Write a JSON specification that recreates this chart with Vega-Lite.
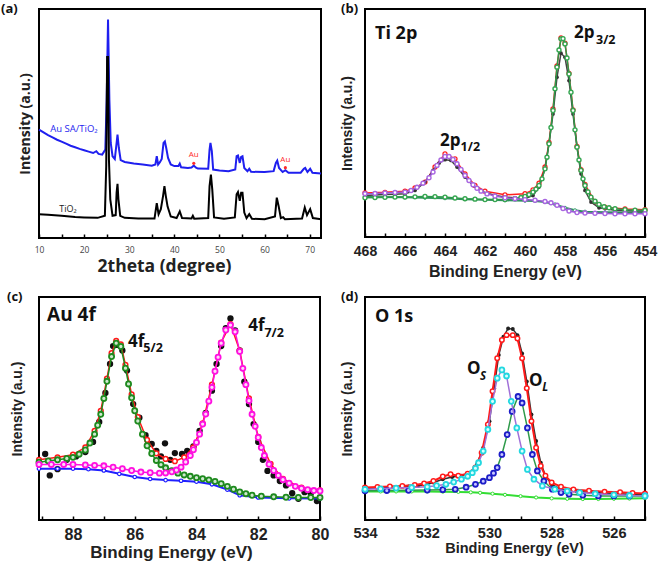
{
"$schema": "https://vega.github.io/schema/vega-lite/v6.json",
"padding": {"top": 2, "left": 0, "right": 0, "bottom": 0},
"background": "white",
"config": {
 "view": {"stroke": "black", "strokeWidth": 2},
 "axis": {"grid": false, "domain": false, "titleFontWeight": "bold", "labelFontWeight": "bold", "titleColor": "#222", "labelColor": "#222", "tickColor": "black", "tickWidth": 1.5, "labelOverlap": false, "labelFlush": false},
 "title": {"anchor": "start", "frame": "group", "fontSize": 13, "fontWeight": "bold", "font": "Open Sans", "color": "#111"}
},
"datasets": {
 "a": [
  {"s":"au","x":10,"y":47.3},{"s":"au","x":11,"y":46.1},{"s":"au","x":12,"y":44.9},{"s":"au","x":13,"y":43.9},{"s":"au","x":14,"y":42.9},{"s":"au","x":15,"y":42.1},{"s":"au","x":16,"y":41.2},{"s":"au","x":17,"y":40.3},{"s":"au","x":18,"y":39.6},{"s":"au","x":19,"y":38.9},{"s":"au","x":20,"y":38.3},{"s":"au","x":21,"y":37.7},{"s":"au","x":22,"y":37.1},{"s":"au","x":22.7,"y":37.9},{"s":"au","x":23.2,"y":36.7},{"s":"au","x":24,"y":36.4},{"s":"au","x":24.7,"y":38.6},{"s":"au","x":25,"y":60.3},{"s":"au","x":25.3,"y":95.4},{"s":"au","x":25.6,"y":60.3},{"s":"au","x":25.9,"y":41.5},{"s":"au","x":26.3,"y":35.7},{"s":"au","x":26.8,"y":34.5},{"s":"au","x":27.2,"y":41.5},{"s":"au","x":27.4,"y":45.1},{"s":"au","x":27.7,"y":39.3},{"s":"au","x":28.1,"y":34.0},{"s":"au","x":29,"y":33.2},{"s":"au","x":31,"y":32.5},{"s":"au","x":33,"y":32.1},{"s":"au","x":35,"y":31.6},{"s":"au","x":35.8,"y":32.1},{"s":"au","x":36.1,"y":35.7},{"s":"au","x":36.4,"y":32.1},{"s":"au","x":36.8,"y":33.1},{"s":"au","x":37.2,"y":34.5},{"s":"au","x":37.6,"y":41.5},{"s":"au","x":37.9,"y":42.2},{"s":"au","x":38.2,"y":39.3},{"s":"au","x":38.6,"y":35.0},{"s":"au","x":39.2,"y":32.1},{"s":"au","x":40,"y":31.4},{"s":"au","x":40.9,"y":31.4},{"s":"au","x":41.2,"y":32.5},{"s":"au","x":41.5,"y":30.9},{"s":"au","x":43,"y":30.6},{"s":"au","x":43.8,"y":30.8},{"s":"au","x":44.3,"y":31.6},{"s":"au","x":44.8,"y":30.7},{"s":"au","x":45.2,"y":30.3},{"s":"au","x":47.5,"y":30.2},{"s":"au","x":47.8,"y":38.6},{"s":"au","x":48,"y":41.5},{"s":"au","x":48.3,"y":37.9},{"s":"au","x":48.6,"y":29.9},{"s":"au","x":50,"y":29.5},{"s":"au","x":52,"y":29.2},{"s":"au","x":53.5,"y":29.9},{"s":"au","x":53.8,"y":35.7},{"s":"au","x":54.1,"y":36.0},{"s":"au","x":54.5,"y":32.8},{"s":"au","x":54.8,"y":35.4},{"s":"au","x":55.1,"y":35.7},{"s":"au","x":55.5,"y":30.6},{"s":"au","x":56.2,"y":29.2},{"s":"au","x":56.6,"y":30.2},{"s":"au","x":57,"y":28.9},{"s":"au","x":60,"y":28.8},{"s":"au","x":62,"y":29.2},{"s":"au","x":62.5,"y":32.8},{"s":"au","x":62.8,"y":33.8},{"s":"au","x":63.2,"y":30.6},{"s":"au","x":64,"y":28.8},{"s":"au","x":64.6,"y":29.6},{"s":"au","x":65.3,"y":28.5},{"s":"au","x":68,"y":28.5},{"s":"au","x":68.7,"y":30.2},{"s":"au","x":69,"y":30.6},{"s":"au","x":69.5,"y":28.8},{"s":"au","x":70.1,"y":30.2},{"s":"au","x":70.6,"y":28.5},{"s":"au","x":72.5,"y":28.2},
  {"s":"ti","x":10,"y":10.4},{"s":"ti","x":12,"y":10.1},{"s":"ti","x":15,"y":9.7},{"s":"ti","x":18,"y":9.2},{"s":"ti","x":20,"y":9.0},{"s":"ti","x":23,"y":8.8},{"s":"ti","x":24.6,"y":9.7},{"s":"ti","x":24.9,"y":31.4},{"s":"ti","x":25.1,"y":79.0},{"s":"ti","x":25.3,"y":79.0},{"s":"ti","x":25.5,"y":34.2},{"s":"ti","x":25.8,"y":16.9},{"s":"ti","x":26.3,"y":9.7},{"s":"ti","x":27,"y":10.0},{"s":"ti","x":27.2,"y":19.8},{"s":"ti","x":27.4,"y":23.7},{"s":"ti","x":27.6,"y":16.9},{"s":"ti","x":28,"y":9.7},{"s":"ti","x":29,"y":8.8},{"s":"ti","x":32,"y":8.5},{"s":"ti","x":35.6,"y":8.5},{"s":"ti","x":36.1,"y":15.2},{"s":"ti","x":36.5,"y":10.4},{"s":"ti","x":37,"y":12.6},{"s":"ti","x":37.5,"y":18.4},{"s":"ti","x":37.8,"y":22.7},{"s":"ti","x":38.1,"y":18.4},{"s":"ti","x":38.5,"y":13.7},{"s":"ti","x":39.2,"y":9.4},{"s":"ti","x":40.5,"y":8.7},{"s":"ti","x":41.2,"y":11.6},{"s":"ti","x":41.7,"y":8.7},{"s":"ti","x":43.8,"y":8.5},{"s":"ti","x":44.1,"y":9.7},{"s":"ti","x":44.4,"y":8.4},{"s":"ti","x":47.5,"y":8.7},{"s":"ti","x":47.8,"y":22.7},{"s":"ti","x":48.1,"y":27.7},{"s":"ti","x":48.4,"y":21.2},{"s":"ti","x":48.8,"y":9.0},{"s":"ti","x":51,"y":8.4},{"s":"ti","x":53.4,"y":9.0},{"s":"ti","x":53.8,"y":19.1},{"s":"ti","x":54.1,"y":20.1},{"s":"ti","x":54.5,"y":16.2},{"s":"ti","x":54.8,"y":19.8},{"s":"ti","x":55.1,"y":19.8},{"s":"ti","x":55.5,"y":11.1},{"s":"ti","x":56,"y":8.7},{"s":"ti","x":56.6,"y":10.4},{"s":"ti","x":57.2,"y":8.4},{"s":"ti","x":60,"y":8.2},{"s":"ti","x":62.3,"y":9.4},{"s":"ti","x":62.7,"y":17.6},{"s":"ti","x":63.1,"y":14.0},{"s":"ti","x":63.6,"y":8.7},{"s":"ti","x":64.1,"y":9.1},{"s":"ti","x":64.5,"y":8.2},{"s":"ti","x":68.3,"y":8.5},{"s":"ti","x":68.9,"y":13.3},{"s":"ti","x":69.4,"y":10.0},{"s":"ti","x":70.1,"y":12.6},{"s":"ti","x":70.7,"y":8.7},{"s":"ti","x":72.5,"y":8.2}
 ],
 "b": [
  {"s":"bg","x":468,"y":17.5},{"s":"bg","x":466,"y":17.4},{"s":"bg","x":465,"y":17.2},{"s":"bg","x":464,"y":17.0},{"s":"bg","x":463,"y":16.6},{"s":"bg","x":462,"y":16.3},{"s":"bg","x":461,"y":16.1},{"s":"bg","x":460,"y":15.9},{"s":"bg","x":459.5,"y":15.8},{"s":"bg","x":459,"y":15.3},{"s":"bg","x":458.5,"y":14.3},{"s":"bg","x":458,"y":12.8},{"s":"bg","x":457.5,"y":11.7},{"s":"bg","x":457,"y":11.1},{"s":"bg","x":456,"y":10.9},{"s":"bg","x":455,"y":10.8},{"s":"bg","x":454,"y":10.8},
  {"s":"r","x":468,"y":19.3},{"s":"r","x":467,"y":19.6},{"s":"r","x":466,"y":20.1},{"s":"r","x":465.5,"y":21.5},{"s":"r","x":465,"y":24.1},{"s":"r","x":464.5,"y":30.7},{"s":"r","x":464,"y":36.5},{"s":"r","x":463.5,"y":34.3},{"s":"r","x":463,"y":27.7},{"s":"r","x":462.5,"y":22.6},{"s":"r","x":462,"y":20.1},{"s":"r","x":461,"y":18.5},{"s":"r","x":460,"y":19.0},{"s":"r","x":459.6,"y":20.7},{"s":"r","x":459.3,"y":23.6},{"s":"r","x":459,"y":30.7},{"s":"r","x":458.8,"y":41.5},{"s":"r","x":458.6,"y":56.2},{"s":"r","x":458.4,"y":75.0},{"s":"r","x":458.2,"y":87.3},{"s":"r","x":458,"y":85.0},{"s":"r","x":457.8,"y":71.8},{"s":"r","x":457.6,"y":55.8},{"s":"r","x":457.4,"y":39.7},{"s":"r","x":457.2,"y":29.5},{"s":"r","x":457,"y":23.1},{"s":"r","x":456.5,"y":15.3},{"s":"r","x":456,"y":13.1},{"s":"r","x":455,"y":12.3},{"s":"r","x":454,"y":12.0},
  {"s":"k","x":468,"y":18.2},{"s":"k","x":467.5,"y":18.4},{"s":"k","x":467,"y":18.6},{"s":"k","x":466.5,"y":18.8},{"s":"k","x":466,"y":19.0},{"s":"k","x":465.5,"y":20.4},{"s":"k","x":465,"y":24.1},{"s":"k","x":464.6,"y":29.2},{"s":"k","x":464.3,"y":32.4},{"s":"k","x":464,"y":33.9},{"s":"k","x":463.7,"y":33.6},{"s":"k","x":463.4,"y":30.7},{"s":"k","x":463,"y":26.3},{"s":"k","x":462.6,"y":22.6},{"s":"k","x":462.2,"y":20.1},{"s":"k","x":461.5,"y":18.2},{"s":"k","x":461,"y":17.5},{"s":"k","x":460.5,"y":17.2},{"s":"k","x":460,"y":16.8},{"s":"k","x":459.6,"y":18.2},{"s":"k","x":459.3,"y":21.9},{"s":"k","x":459,"y":29.9},{"s":"k","x":458.8,"y":40.9},{"s":"k","x":458.6,"y":54.0},{"s":"k","x":458.4,"y":70.1},{"s":"k","x":458.2,"y":80.6},{"s":"k","x":458,"y":78.8},{"s":"k","x":457.8,"y":68.6},{"s":"k","x":457.6,"y":54.0},{"s":"k","x":457.4,"y":39.4},{"s":"k","x":457.2,"y":27.7},{"s":"k","x":457,"y":20.4},{"s":"k","x":456.7,"y":15.3},{"s":"k","x":456.3,"y":12.8},{"s":"k","x":455.5,"y":11.7},{"s":"k","x":454.5,"y":11.4},{"s":"k","x":454,"y":11.4},
  {"s":"g","x":468,"y":17.2},{"s":"g","x":467.5,"y":17.3},{"s":"g","x":467,"y":17.4},{"s":"g","x":466.5,"y":17.5},{"s":"g","x":466,"y":17.5},{"s":"g","x":465.5,"y":17.6},{"s":"g","x":465,"y":17.8},{"s":"g","x":464.5,"y":17.7},{"s":"g","x":464,"y":17.5},{"s":"g","x":463.5,"y":17.1},{"s":"g","x":463,"y":16.8},{"s":"g","x":462.5,"y":16.6},{"s":"g","x":462,"y":16.4},{"s":"g","x":461.5,"y":16.4},{"s":"g","x":461,"y":16.4},{"s":"g","x":460.5,"y":16.8},{"s":"g","x":460.2,"y":17.3},{"s":"g","x":460,"y":17.8},{"s":"g","x":459.8,"y":18.6},{"s":"g","x":459.6,"y":19.7},{"s":"g","x":459.45,"y":21.0},{"s":"g","x":459.3,"y":22.6},{"s":"g","x":459.15,"y":25.5},{"s":"g","x":459,"y":29.9},{"s":"g","x":458.9,"y":35.0},{"s":"g","x":458.8,"y":40.9},{"s":"g","x":458.7,"y":48.0},{"s":"g","x":458.6,"y":55.5},{"s":"g","x":458.5,"y":65.0},{"s":"g","x":458.4,"y":74.5},{"s":"g","x":458.3,"y":82.0},{"s":"g","x":458.2,"y":86.9},{"s":"g","x":458.1,"y":87.0},{"s":"g","x":458,"y":84.7},{"s":"g","x":457.9,"y":78.5},{"s":"g","x":457.8,"y":71.5},{"s":"g","x":457.7,"y":63.5},{"s":"g","x":457.6,"y":55.5},{"s":"g","x":457.5,"y":47.0},{"s":"g","x":457.4,"y":39.4},{"s":"g","x":457.3,"y":33.8},{"s":"g","x":457.2,"y":29.2},{"s":"g","x":457.1,"y":25.5},{"s":"g","x":457,"y":22.6},{"s":"g","x":456.85,"y":19.8},{"s":"g","x":456.7,"y":17.5},{"s":"g","x":456.5,"y":15.7},{"s":"g","x":456.3,"y":14.3},{"s":"g","x":456.05,"y":13.3},{"s":"g","x":455.8,"y":12.8},{"s":"g","x":455.5,"y":12.4},{"s":"g","x":455,"y":12.0},{"s":"g","x":454.5,"y":11.8},{"s":"g","x":454,"y":11.7},
  {"s":"p","x":468,"y":19.0},{"s":"p","x":467.5,"y":19.1},{"s":"p","x":467,"y":19.3},{"s":"p","x":466.5,"y":19.5},{"s":"p","x":466,"y":19.7},{"s":"p","x":465.7,"y":20.4},{"s":"p","x":465.4,"y":21.8},{"s":"p","x":465.1,"y":23.6},{"s":"p","x":464.8,"y":26.0},{"s":"p","x":464.6,"y":28.5},{"s":"p","x":464.4,"y":31.4},{"s":"p","x":464.2,"y":33.8},{"s":"p","x":464,"y":35.3},{"s":"p","x":463.8,"y":35.3},{"s":"p","x":463.6,"y":34.0},{"s":"p","x":463.4,"y":32.1},{"s":"p","x":463.2,"y":29.6},{"s":"p","x":463,"y":27.0},{"s":"p","x":462.8,"y":24.8},{"s":"p","x":462.6,"y":22.9},{"s":"p","x":462.4,"y":21.4},{"s":"p","x":462.2,"y":20.1},{"s":"p","x":461.9,"y":18.9},{"s":"p","x":461.5,"y":18.0},{"s":"p","x":461,"y":17.2},{"s":"p","x":460.5,"y":16.8},{"s":"p","x":460,"y":16.4},{"s":"p","x":459.5,"y":16.1},{"s":"p","x":459,"y":15.6},{"s":"p","x":458.7,"y":15.0},{"s":"p","x":458.4,"y":13.9},{"s":"p","x":458.1,"y":12.5},{"s":"p","x":457.8,"y":11.4},{"s":"p","x":457.4,"y":10.7},{"s":"p","x":457,"y":10.5},{"s":"p","x":456.5,"y":10.4},{"s":"p","x":456,"y":10.3},{"s":"p","x":455.5,"y":10.2},{"s":"p","x":455,"y":10.2},{"s":"p","x":454.5,"y":10.2},{"s":"p","x":454,"y":10.2}
 ],
 "c": [
  {"s":"k","x":88.9,"y":29.6},{"s":"k","x":88.75,"y":20.0},{"s":"k","x":88.5,"y":22.8},{"s":"k","x":88.2,"y":27.0},{"s":"k","x":87.9,"y":28.5},{"s":"k","x":87.6,"y":30.5},{"s":"k","x":87.35,"y":35.0},{"s":"k","x":87.15,"y":44.0},{"s":"k","x":86.95,"y":57.0},{"s":"k","x":86.8,"y":70.0},{"s":"k","x":86.7,"y":78.0},{"s":"k","x":86.55,"y":78.5},{"s":"k","x":86.4,"y":76.0},{"s":"k","x":86.25,"y":67.0},{"s":"k","x":86.05,"y":52.0},{"s":"k","x":85.85,"y":45.9},{"s":"k","x":85.65,"y":38.0},{"s":"k","x":85.45,"y":34.1},{"s":"k","x":85.3,"y":31.0},{"s":"k","x":85.15,"y":28.5},{"s":"k","x":85.02,"y":34.4},{"s":"k","x":84.85,"y":27.0},{"s":"k","x":84.7,"y":30.0},{"s":"k","x":84.47,"y":29.6},{"s":"k","x":84.3,"y":31.0},{"s":"k","x":84.1,"y":33.0},{"s":"k","x":83.9,"y":40.0},{"s":"k","x":83.7,"y":48.0},{"s":"k","x":83.5,"y":58.0},{"s":"k","x":83.35,"y":70.0},{"s":"k","x":83.2,"y":78.0},{"s":"k","x":83.05,"y":86.0},{"s":"k","x":82.9,"y":90.4},{"s":"k","x":82.75,"y":85.0},{"s":"k","x":82.6,"y":76.0},{"s":"k","x":82.45,"y":62.0},{"s":"k","x":82.3,"y":52.0},{"s":"k","x":82.15,"y":43.0},{"s":"k","x":82.0,"y":35.0},{"s":"k","x":81.85,"y":27.0},{"s":"k","x":81.7,"y":22.0},{"s":"k","x":81.5,"y":20.0},{"s":"k","x":81.3,"y":17.5},{"s":"k","x":81.1,"y":15.5},{"s":"k","x":80.9,"y":12.0},{"s":"k","x":80.7,"y":9.5},{"s":"k","x":80.5,"y":12.5},{"s":"k","x":80.3,"y":12.0},{"s":"k","x":80.1,"y":8.5},
  {"s":"b","x":89.1,"y":23.0},{"s":"b","x":88.5,"y":23.0},{"s":"b","x":88,"y":23.0},{"s":"b","x":87.5,"y":22.8},{"s":"b","x":87,"y":22.2},{"s":"b","x":86.5,"y":20.7},{"s":"b","x":86,"y":19.3},{"s":"b","x":85.5,"y":18.4},{"s":"b","x":85,"y":17.9},{"s":"b","x":84.5,"y":17.6},{"s":"b","x":84,"y":17.2},{"s":"b","x":83.5,"y":16.0},{"s":"b","x":83,"y":13.6},{"s":"b","x":82.6,"y":11.1},{"s":"b","x":82,"y":10.1},{"s":"b","x":81,"y":9.7},{"s":"b","x":80,"y":9.6},
  {"s":"r","x":89.1,"y":27.0},{"s":"r","x":88.5,"y":28.1},{"s":"r","x":88,"y":29.3},{"s":"r","x":87.6,"y":32.6},{"s":"r","x":87.3,"y":40.0},{"s":"r","x":87.1,"y":48.9},{"s":"r","x":86.9,"y":63.4},{"s":"r","x":86.75,"y":74.8},{"s":"r","x":86.6,"y":80.3},{"s":"r","x":86.45,"y":78.8},{"s":"r","x":86.3,"y":69.6},{"s":"r","x":86.1,"y":56.3},{"s":"r","x":85.9,"y":46.2},{"s":"r","x":85.6,"y":35.9},{"s":"r","x":85.3,"y":29.9},{"s":"r","x":85,"y":27.4},{"s":"r","x":84.7,"y":26.4},{"s":"r","x":84.4,"y":28.1},{"s":"r","x":84.1,"y":32.6},{"s":"r","x":83.8,"y":43.3},{"s":"r","x":83.5,"y":60.7},{"s":"r","x":83.2,"y":79.6},{"s":"r","x":82.9,"y":87.9},{"s":"r","x":82.6,"y":76.0},{"s":"r","x":82.3,"y":54.5},{"s":"r","x":82,"y":37.3},{"s":"r","x":81.6,"y":25.2},{"s":"r","x":81.2,"y":18.4},{"s":"r","x":80.6,"y":14.5},{"s":"r","x":80,"y":13.3},
  {"s":"g","x":89.1,"y":25.9},{"s":"g","x":88.8,"y":26.5},{"s":"g","x":88.5,"y":27.0},{"s":"g","x":88.2,"y":27.6},{"s":"g","x":88,"y":28.1},{"s":"g","x":87.8,"y":29.5},{"s":"g","x":87.6,"y":31.4},{"s":"g","x":87.45,"y":34.5},{"s":"g","x":87.3,"y":38.5},{"s":"g","x":87.2,"y":42.5},{"s":"g","x":87.1,"y":47.4},{"s":"g","x":87,"y":54.5},{"s":"g","x":86.9,"y":62.2},{"s":"g","x":86.75,"y":73.3},{"s":"g","x":86.6,"y":79.3},{"s":"g","x":86.45,"y":77.8},{"s":"g","x":86.3,"y":68.1},{"s":"g","x":86.2,"y":61.0},{"s":"g","x":86.1,"y":54.8},{"s":"g","x":86,"y":49.0},{"s":"g","x":85.9,"y":44.4},{"s":"g","x":85.75,"y":38.5},{"s":"g","x":85.6,"y":33.3},{"s":"g","x":85.45,"y":29.8},{"s":"g","x":85.3,"y":26.7},{"s":"g","x":85.15,"y":24.8},{"s":"g","x":85,"y":23.4},{"s":"g","x":84.8,"y":22.1},{"s":"g","x":84.6,"y":21.0},{"s":"g","x":84.4,"y":20.2},{"s":"g","x":84.2,"y":19.6},{"s":"g","x":84,"y":19.0},{"s":"g","x":83.8,"y":18.5},{"s":"g","x":83.6,"y":18.0},{"s":"g","x":83.4,"y":17.3},{"s":"g","x":83.2,"y":16.3},{"s":"g","x":83,"y":15.1},{"s":"g","x":82.8,"y":13.8},{"s":"g","x":82.6,"y":12.6},{"s":"g","x":82.4,"y":11.8},{"s":"g","x":82.2,"y":11.1},{"s":"g","x":81.9,"y":10.7},{"s":"g","x":81.5,"y":10.4},{"s":"g","x":81.1,"y":10.2},{"s":"g","x":80.7,"y":10.1},{"s":"g","x":80.3,"y":10.1},{"s":"g","x":80,"y":10.1},
  {"s":"m","x":89.1,"y":24.9},{"s":"m","x":88.7,"y":24.9},{"s":"m","x":88.3,"y":24.9},{"s":"m","x":88,"y":24.9},{"s":"m","x":87.6,"y":24.7},{"s":"m","x":87.3,"y":24.5},{"s":"m","x":87,"y":24.3},{"s":"m","x":86.7,"y":23.7},{"s":"m","x":86.4,"y":23.0},{"s":"m","x":86.1,"y":22.2},{"s":"m","x":85.8,"y":21.5},{"s":"m","x":85.5,"y":21.2},{"s":"m","x":85.2,"y":21.0},{"s":"m","x":85,"y":21.1},{"s":"m","x":84.8,"y":21.6},{"s":"m","x":84.65,"y":22.4},{"s":"m","x":84.5,"y":23.7},{"s":"m","x":84.35,"y":26.0},{"s":"m","x":84.2,"y":28.9},{"s":"m","x":84.1,"y":31.5},{"s":"m","x":84,"y":34.8},{"s":"m","x":83.9,"y":38.5},{"s":"m","x":83.8,"y":43.0},{"s":"m","x":83.7,"y":47.5},{"s":"m","x":83.6,"y":53.3},{"s":"m","x":83.5,"y":59.5},{"s":"m","x":83.4,"y":66.7},{"s":"m","x":83.3,"y":73.0},{"s":"m","x":83.2,"y":79.3},{"s":"m","x":83.05,"y":85.2},{"s":"m","x":82.9,"y":87.4},{"s":"m","x":82.75,"y":84.4},{"s":"m","x":82.6,"y":75.6},{"s":"m","x":82.5,"y":68.0},{"s":"m","x":82.4,"y":60.7},{"s":"m","x":82.3,"y":53.5},{"s":"m","x":82.2,"y":47.4},{"s":"m","x":82.1,"y":42.0},{"s":"m","x":82,"y":37.0},{"s":"m","x":81.9,"y":32.5},{"s":"m","x":81.8,"y":28.9},{"s":"m","x":81.65,"y":25.0},{"s":"m","x":81.5,"y":22.2},{"s":"m","x":81.35,"y":20.0},{"s":"m","x":81.2,"y":18.1},{"s":"m","x":81,"y":16.5},{"s":"m","x":80.8,"y":15.1},{"s":"m","x":80.6,"y":14.2},{"s":"m","x":80.4,"y":13.6},{"s":"m","x":80.2,"y":13.2},{"s":"m","x":80,"y":13.0}
 ],
 "d": [
  {"s":"k","x":534,"y":14.1},{"s":"k","x":533.5,"y":14.3},{"s":"k","x":533,"y":14.6},{"s":"k","x":532.6,"y":15.0},{"s":"k","x":532.3,"y":15.3},{"s":"k","x":532,"y":16.0},{"s":"k","x":531.8,"y":16.8},{"s":"k","x":531.5,"y":18.3},{"s":"k","x":531.2,"y":19.3},{"s":"k","x":530.9,"y":19.8},{"s":"k","x":530.6,"y":21.2},{"s":"k","x":530.4,"y":25.0},{"s":"k","x":530.2,"y":32.4},{"s":"k","x":530,"y":44.3},{"s":"k","x":529.85,"y":59.1},{"s":"k","x":529.7,"y":74.0},{"s":"k","x":529.55,"y":82.2},{"s":"k","x":529.4,"y":85.9},{"s":"k","x":529.25,"y":85.6},{"s":"k","x":529.1,"y":82.9},{"s":"k","x":528.95,"y":74.7},{"s":"k","x":528.8,"y":62.1},{"s":"k","x":528.65,"y":47.3},{"s":"k","x":528.5,"y":35.4},{"s":"k","x":528.35,"y":25.7},{"s":"k","x":528.2,"y":19.8},{"s":"k","x":528,"y":16.0},{"s":"k","x":527.7,"y":13.8},{"s":"k","x":527.2,"y":12.8},{"s":"k","x":526.5,"y":12.2},{"s":"k","x":525.5,"y":11.6},{"s":"k","x":525,"y":11.6},
  {"s":"bg","x":534,"y":12.8},{"s":"bg","x":533.5,"y":12.8},{"s":"bg","x":533,"y":12.8},{"s":"bg","x":532.5,"y":12.8},{"s":"bg","x":532,"y":12.8},{"s":"bg","x":531.5,"y":12.7},{"s":"bg","x":531,"y":12.6},{"s":"bg","x":530.6,"y":12.4},{"s":"bg","x":530.3,"y":12.2},{"s":"bg","x":529.9,"y":11.8},{"s":"bg","x":529.5,"y":11.3},{"s":"bg","x":529,"y":10.7},{"s":"bg","x":528.5,"y":10.1},{"s":"bg","x":528,"y":9.7},{"s":"bg","x":527.5,"y":9.5},{"s":"bg","x":527,"y":9.4},{"s":"bg","x":526.5,"y":9.4},{"s":"bg","x":526,"y":9.5},{"s":"bg","x":525.5,"y":9.6},{"s":"bg","x":525,"y":9.8},
  {"s":"r","x":534,"y":14.6},{"s":"r","x":533.6,"y":14.8},{"s":"r","x":533.2,"y":15.0},{"s":"r","x":532.8,"y":15.3},{"s":"r","x":532.4,"y":15.7},{"s":"r","x":532.1,"y":16.4},{"s":"r","x":531.8,"y":17.5},{"s":"r","x":531.5,"y":19.5},{"s":"r","x":531.25,"y":20.5},{"s":"r","x":531,"y":19.8},{"s":"r","x":530.7,"y":20.8},{"s":"r","x":530.45,"y":23.5},{"s":"r","x":530.25,"y":30.2},{"s":"r","x":530.05,"y":42.8},{"s":"r","x":529.9,"y":57.7},{"s":"r","x":529.75,"y":72.5},{"s":"r","x":529.6,"y":80.7},{"s":"r","x":529.45,"y":82.9},{"s":"r","x":529.25,"y":82.9},{"s":"r","x":529.1,"y":81.4},{"s":"r","x":528.95,"y":72.5},{"s":"r","x":528.8,"y":59.1},{"s":"r","x":528.65,"y":44.3},{"s":"r","x":528.5,"y":32.4},{"s":"r","x":528.35,"y":24.2},{"s":"r","x":528.2,"y":19.8},{"s":"r","x":528,"y":16.8},{"s":"r","x":527.7,"y":14.9},{"s":"r","x":527.3,"y":13.7},{"s":"r","x":526.8,"y":13.1},{"s":"r","x":526.3,"y":12.7},{"s":"r","x":525.8,"y":12.4},{"s":"r","x":525.4,"y":12.1},{"s":"r","x":525,"y":11.9},
  {"s":"bl","x":534,"y":13.1},{"s":"bl","x":533.3,"y":13.2},{"s":"bl","x":532.6,"y":13.3},{"s":"bl","x":532,"y":13.4},{"s":"bl","x":531.5,"y":13.6},{"s":"bl","x":531.1,"y":13.8},{"s":"bl","x":530.75,"y":14.7},{"s":"bl","x":530.45,"y":16.0},{"s":"bl","x":530.2,"y":17.4},{"s":"bl","x":530,"y":19.0},{"s":"bl","x":529.87,"y":21.0},{"s":"bl","x":529.75,"y":23.5},{"s":"bl","x":529.6,"y":29.4},{"s":"bl","x":529.43,"y":38.3},{"s":"bl","x":529.27,"y":48.7},{"s":"bl","x":529.08,"y":55.4},{"s":"bl","x":528.95,"y":52.5},{"s":"bl","x":528.78,"y":41.3},{"s":"bl","x":528.62,"y":29.4},{"s":"bl","x":528.46,"y":22.0},{"s":"bl","x":528.25,"y":17.5},{"s":"bl","x":527.98,"y":13.8},{"s":"bl","x":527.7,"y":12.3},{"s":"bl","x":527.44,"y":11.6},{"s":"bl","x":527,"y":11.1},{"s":"bl","x":526.5,"y":10.8},{"s":"bl","x":526,"y":10.8},{"s":"bl","x":525.5,"y":10.8},{"s":"bl","x":525,"y":10.8},
  {"s":"cy","x":534,"y":13.8},{"s":"cy","x":533.5,"y":14.0},{"s":"cy","x":533,"y":14.3},{"s":"cy","x":532.5,"y":14.6},{"s":"cy","x":532,"y":14.9},{"s":"cy","x":531.7,"y":15.4},{"s":"cy","x":531.4,"y":16.0},{"s":"cy","x":531.15,"y":17.0},{"s":"cy","x":530.9,"y":18.3},{"s":"cy","x":530.7,"y":19.6},{"s":"cy","x":530.55,"y":21.2},{"s":"cy","x":530.45,"y":23.2},{"s":"cy","x":530.35,"y":25.7},{"s":"cy","x":530.2,"y":30.9},{"s":"cy","x":530.05,"y":40.6},{"s":"cy","x":529.9,"y":53.2},{"s":"cy","x":529.75,"y":63.6},{"s":"cy","x":529.6,"y":67.3},{"s":"cy","x":529.45,"y":64.6},{"s":"cy","x":529.3,"y":53.2},{"s":"cy","x":529.12,"y":41.3},{"s":"cy","x":528.95,"y":30.9},{"s":"cy","x":528.78,"y":22.7},{"s":"cy","x":528.57,"y":18.3},{"s":"cy","x":528.3,"y":15.3},{"s":"cy","x":527.9,"y":13.8},{"s":"cy","x":527.5,"y":13.0},{"s":"cy","x":527.1,"y":12.3},{"s":"cy","x":526.6,"y":11.8},{"s":"cy","x":526,"y":11.3},{"s":"cy","x":525.5,"y":11.0},{"s":"cy","x":525,"y":10.8}
 ]
},
"bounds": "flush",
"spacing": 288,
"vconcat": [
 {"bounds": "flush", "spacing": 44, "hconcat": [
  {
   "width": 282, "height": 229,
   "title": {"text": "(a)", "dx": -38, "offset": -7},
   "data": {"name": "a"},
   "encoding": {
    "x": {"field": "x", "type": "quantitative", "scale": {"domain": [10, 72.5], "nice": false, "zero": false},
          "axis": {"title": "2theta (degree)", "titleX": 125, "values": [10,15,20,25,30,35,40,45,50,55,60,65,70], "labelExpr": "datum.value % 10 == 0 ? datum.label : ''", "tickSize": -4, "labelPadding": 11, "labelFont": "Open Sans", "labelFontWeight": "normal", "labelFontSize": 8.5, "labelColor": "#444", "titleFont": "Open Sans", "titleFontSize": 17.5, "titlePadding": 4}},
    "y": {"field": "y", "type": "quantitative", "scale": {"domain": [0, 100], "nice": false}, "axis": {"title": "Intensity (a.u.)", "labels": false, "ticks": false, "titlePadding": 7, "titleFont": "Open Sans", "titleFontSize": 14}}
   },
   "layer": [
    {"transform": [{"filter": "datum.s=='au'"}], "mark": {"type": "line", "color": "#1f1fef", "strokeWidth": 2}},
    {"transform": [{"filter": "datum.s=='ti'"}], "mark": {"type": "line", "color": "#000000", "strokeWidth": 2}},
    {"data": {"values": [{"x": 12.5, "y": 47.5, "t": "Au SA/TiO₂"}]}, "mark": {"type": "text", "align": "left", "baseline": "middle", "font": "Open Sans", "fontSize": 9.5, "color": "#1f1fef"}, "encoding": {"text": {"field": "t"}}},
    {"data": {"values": [{"x": 14.5, "y": 12.7, "t": "TiO₂"}]}, "mark": {"type": "text", "align": "left", "baseline": "middle", "font": "Open Sans", "fontSize": 9, "color": "#222"}, "encoding": {"text": {"field": "t"}}},
    {"data": {"values": [{"x": 44.3, "y": 36.2, "t": "Au"}, {"x": 64.6, "y": 34.2, "t": "Au"}]}, "mark": {"type": "text", "align": "center", "baseline": "middle", "font": "Open Sans", "fontSize": 8, "color": "#ff2a2a"}, "encoding": {"text": {"field": "t"}}},
    {"data": {"values": [{"x": 44.3, "y": 32.6}, {"x": 64.6, "y": 30.7}]}, "mark": {"type": "point", "shape": "circle", "filled": true, "color": "#ff2a2a", "size": 10, "opacity": 1}}
   ]
  },
  {
   "width": 280, "height": 228,
   "title": {"text": "(b)", "dx": -24, "offset": -7},
   "data": {"name": "b"},
   "encoding": {
    "x": {"field": "x", "type": "quantitative", "scale": {"domain": [454, 468], "reverse": true, "nice": false, "zero": false},
          "axis": {"title": "Binding Energy (eV)", "values": [454,455,456,457,458,459,460,461,462,463,464,465,466,467,468], "labelExpr": "datum.value % 2 == 0 ? datum.label : ''", "tickSize": -4, "labelPadding": 11, "labelFont": "Liberation Sans", "labelFontSize": 14, "titleFont": "Liberation Sans", "titleFontSize": 16, "titlePadding": 5}},
    "y": {"field": "y", "type": "quantitative", "scale": {"domain": [0, 100], "nice": false}, "axis": {"title": "Intensity (a.u.)", "labels": false, "ticks": false, "titlePadding": 11, "titleFont": "Liberation Sans", "titleFontSize": 14}}
   },
   "layer": [
    {"transform": [{"filter": "datum.s=='bg'"}], "mark": {"type": "line", "color": "#2f8f5f", "strokeWidth": 2, "point": {"filled": false, "fill": "white", "stroke": "#3aa070", "size": 10, "strokeWidth": 1}}},
    {"transform": [{"filter": "datum.s=='r'"}], "mark": {"type": "line", "color": "#ff2020", "strokeWidth": 1.5, "point": {"filled": false, "fill": "white", "stroke": "#ff2020", "size": 16, "strokeWidth": 1.3}}},
    {"transform": [{"filter": "datum.s=='k'"}], "mark": {"type": "line", "color": "#444444", "strokeWidth": 1.5, "point": {"filled": true, "color": "#333333", "size": 14}}},
    {"transform": [{"filter": "datum.s=='g'"}], "mark": {"type": "line", "color": "#2e9a4a", "strokeWidth": 1.5, "point": {"filled": false, "fill": "white", "stroke": "#35a550", "size": 16, "strokeWidth": 1.4}}},
    {"transform": [{"filter": "datum.s=='p'"}], "mark": {"type": "line", "color": "#9b55d8", "strokeWidth": 1.5, "point": {"filled": false, "fill": "white", "stroke": "#a866e0", "size": 16, "strokeWidth": 1.4}}},
    {"data": {"values": [{"x": 467.5, "y": 89, "t": "Ti 2p"}]}, "mark": {"type": "text", "align": "left", "baseline": "middle", "font": "Open Sans", "fontWeight": "bold", "fontSize": 18, "color": "#111"}, "encoding": {"text": {"field": "t"}}},
    {"data": {"values": [{"x": 464.25, "y": 42.3, "t": "2p"}, {"x": 457.55, "y": 89.3, "t": "2p"}]}, "mark": {"type": "text", "align": "left", "baseline": "middle", "font": "Open Sans", "fontWeight": "bold", "fontSize": 17, "color": "#111"}, "encoding": {"text": {"field": "t"}}},
    {"data": {"values": [{"x": 463.22, "y": 39.3, "t": "1/2"}, {"x": 456.45, "y": 86.3, "t": "3/2"}]}, "mark": {"type": "text", "align": "left", "baseline": "middle", "font": "Open Sans", "fontWeight": "bold", "fontSize": 12.5, "color": "#111"}, "encoding": {"text": {"field": "t"}}}
   ]
  }
 ]},
 {"bounds": "flush", "spacing": 45, "hconcat": [
  {
   "width": 281, "height": 223,
   "title": {"text": "(c)", "dx": -32, "offset": -7},
   "data": {"name": "c"},
   "encoding": {
    "x": {"field": "x", "type": "quantitative", "scale": {"domain": [80, 89.1], "reverse": true, "nice": false, "zero": false},
          "axis": {"title": "Binding Energy (eV)", "titleX": 132, "values": [80,81,82,83,84,85,86,87,88,89], "labelExpr": "datum.value % 2 == 0 ? datum.label : ''", "tickSize": -4, "labelPadding": 10, "labelFont": "Liberation Sans", "labelFontSize": 16, "titleFont": "Liberation Sans", "titleFontSize": 17, "titlePadding": 2}},
    "y": {"field": "y", "type": "quantitative", "scale": {"domain": [0, 100], "nice": false}, "axis": {"title": "Intensity (a.u.)", "labels": false, "ticks": false, "titlePadding": 15, "titleFont": "Liberation Sans", "titleFontSize": 14}}
   },
   "layer": [
    {"transform": [{"filter": "datum.s=='k'"}], "mark": {"type": "point", "filled": true, "color": "#111111", "size": 40, "opacity": 1}},
    {"transform": [{"filter": "datum.s=='b'"}], "mark": {"type": "line", "color": "#2020ff", "strokeWidth": 2, "point": {"filled": false, "fill": "white", "stroke": "#2020ff", "size": 12, "strokeWidth": 1.2}}},
    {"transform": [{"filter": "datum.s=='r'"}], "mark": {"type": "line", "color": "#ff1a1a", "strokeWidth": 1.5, "point": {"filled": false, "fill": "white", "stroke": "#ff1a1a", "size": 22, "strokeWidth": 1.5}}},
    {"transform": [{"filter": "datum.s=='g'"}], "mark": {"type": "line", "color": "#1e8a1e", "strokeWidth": 1.5, "point": {"filled": false, "fill": "#cfe8cf", "stroke": "#1e8a1e", "size": 26, "strokeWidth": 1.8}}},
    {"transform": [{"filter": "datum.s=='m'"}], "mark": {"type": "line", "color": "#ff10e0", "strokeWidth": 1.5, "point": {"filled": false, "fill": "#ffd8f8", "stroke": "#ff10e0", "size": 26, "strokeWidth": 1.8}}},
    {"data": {"values": [{"x": 88.84, "y": 92, "t": "Au 4f"}]}, "mark": {"type": "text", "align": "left", "baseline": "middle", "font": "Open Sans", "fontWeight": "bold", "fontSize": 19, "color": "#111"}, "encoding": {"text": {"field": "t"}}},
    {"data": {"values": [{"x": 86.22, "y": 80.0, "t": "4f"}, {"x": 82.32, "y": 87.0, "t": "4f"}]}, "mark": {"type": "text", "align": "left", "baseline": "middle", "font": "Open Sans", "fontWeight": "bold", "fontSize": 17, "color": "#111"}, "encoding": {"text": {"field": "t"}}},
    {"data": {"values": [{"x": 85.72, "y": 77.0, "t": "5/2"}, {"x": 81.8, "y": 84.0, "t": "7/2"}]}, "mark": {"type": "text", "align": "left", "baseline": "middle", "font": "Open Sans", "fontWeight": "bold", "fontSize": 12.5, "color": "#111"}, "encoding": {"text": {"field": "t"}}}
   ]
  },
  {
   "width": 280, "height": 223,
   "title": {"text": "(d)", "dx": -24, "offset": -7},
   "data": {"name": "d"},
   "encoding": {
    "x": {"field": "x", "type": "quantitative", "scale": {"domain": [525, 534], "reverse": true, "nice": false, "zero": false},
          "axis": {"title": "Binding Energy (eV)", "titleX": 149, "values": [525,526,527,528,529,530,531,532,533,534], "labelExpr": "datum.value % 2 == 0 ? datum.label : ''", "tickSize": -4, "labelPadding": 10, "labelFont": "Liberation Sans", "labelFontSize": 14.5, "titleFont": "Liberation Sans", "titleFontSize": 14.5, "titlePadding": 2}},
    "y": {"field": "y", "type": "quantitative", "scale": {"domain": [0, 100], "nice": false}, "axis": {"title": "Intensity (a.u.)", "labels": false, "ticks": false, "titlePadding": 11, "titleFont": "Liberation Sans", "titleFontSize": 14}}
   },
   "layer": [
    {"transform": [{"filter": "datum.s=='bg'"}], "mark": {"type": "line", "color": "#33dd33", "strokeWidth": 2, "point": {"filled": false, "fill": "white", "stroke": "#33dd33", "size": 10, "strokeWidth": 1}}},
    {"transform": [{"filter": "datum.s=='k'"}], "mark": {"type": "line", "color": "#333333", "strokeWidth": 1.5, "point": {"filled": true, "color": "#222222", "size": 16}}},
    {"transform": [{"filter": "datum.s=='r'"}], "mark": {"type": "line", "color": "#ff1a1a", "strokeWidth": 2, "point": {"filled": false, "fill": "white", "stroke": "#ff1a1a", "size": 20, "strokeWidth": 1.5}}},
    {"transform": [{"filter": "datum.s=='bl'"}], "mark": {"type": "line", "color": "#2e9a4a", "strokeWidth": 1.5, "point": {"filled": false, "fill": "#c8c8ff", "stroke": "#1c1cc8", "size": 24, "strokeWidth": 1.8}}},
    {"transform": [{"filter": "datum.s=='cy'"}], "mark": {"type": "line", "color": "#a070d8", "strokeWidth": 1.5, "point": {"filled": false, "fill": "#d8ffff", "stroke": "#22d8e0", "size": 24, "strokeWidth": 1.8}}},
    {"data": {"values": [{"x": 533.68, "y": 91, "t": "O 1s"}]}, "mark": {"type": "text", "align": "left", "baseline": "middle", "font": "Open Sans", "fontWeight": "bold", "fontSize": 18, "color": "#111"}, "encoding": {"text": {"field": "t"}}},
    {"data": {"values": [{"x": 530.72, "y": 67.5, "t": "O"}, {"x": 528.73, "y": 62.3, "t": "O"}]}, "mark": {"type": "text", "align": "left", "baseline": "middle", "font": "Open Sans", "fontWeight": "bold", "fontSize": 17, "color": "#111"}, "encoding": {"text": {"field": "t"}}},
    {"data": {"values": [{"x": 530.3, "y": 64.3, "t": "S"}, {"x": 528.3, "y": 59.0, "t": "L"}]}, "mark": {"type": "text", "align": "left", "baseline": "middle", "font": "Open Sans", "fontWeight": "bold", "fontStyle": "italic", "fontSize": 11.5, "color": "#111"}, "encoding": {"text": {"field": "t"}}}
   ]
  }
 ]}
]
}
